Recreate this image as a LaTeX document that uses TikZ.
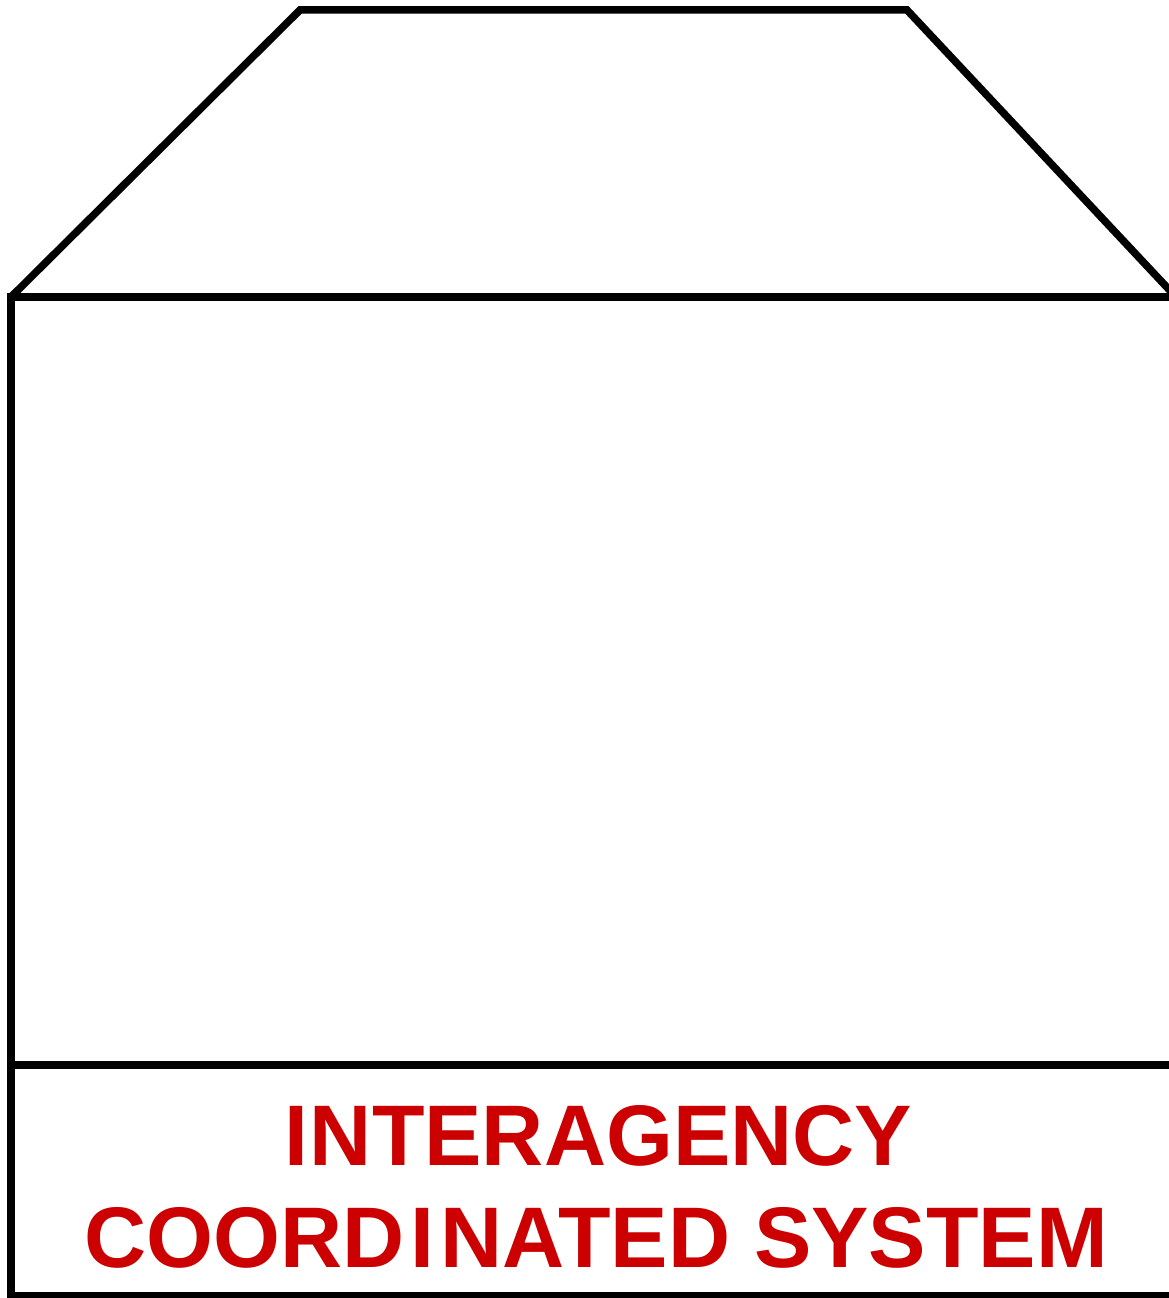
\documentclass[tikz,border=0pt]{standalone}
\usepackage{fontspec}
\setmainfont{Liberation Sans}
\definecolor{tred}{HTML}{CC0000}
\begin{document}
\begin{tikzpicture}[x=1pt,y=-1pt,
  frame/.style={draw=black,line width=7.5pt},
  title/.style={text=tred,font=\fontsize{86}{100}\selectfont\bfseries,inner sep=0pt,anchor=base}]
\useasboundingbox (0,0) rectangle (1169,1298);
\clip (0,0) rectangle (1169,1298);
\fill[white] (0,0) rectangle (1169,1298);
\coordinate (tl) at (300,10);
\coordinate (tr) at (907,10);
\coordinate (ml) at (11,297);
\coordinate (mr) at (1182,297);
\coordinate (rs) at (1176,297);
\coordinate (sl) at (11,1065);
\coordinate (sr) at (1180,1065);
\coordinate (bl) at (11,1296);
\coordinate (br) at (1180,1296);
\draw[frame] (ml) -- (tl) -- (tr) -- (rs);
\draw[frame] (ml) -- (mr);
\draw[frame,line cap=rect] (ml) -- (bl) -- (br);
\draw[frame] (sl) -- (sr);
\node[title] (l1) at (598,1165) {I\kern2pt NTERAGENCY};
\node[title] (l2) at (596,1267) {COORD\kern6pt I\kern6pt NATED SYSTEM};
\end{tikzpicture}
\end{document}
